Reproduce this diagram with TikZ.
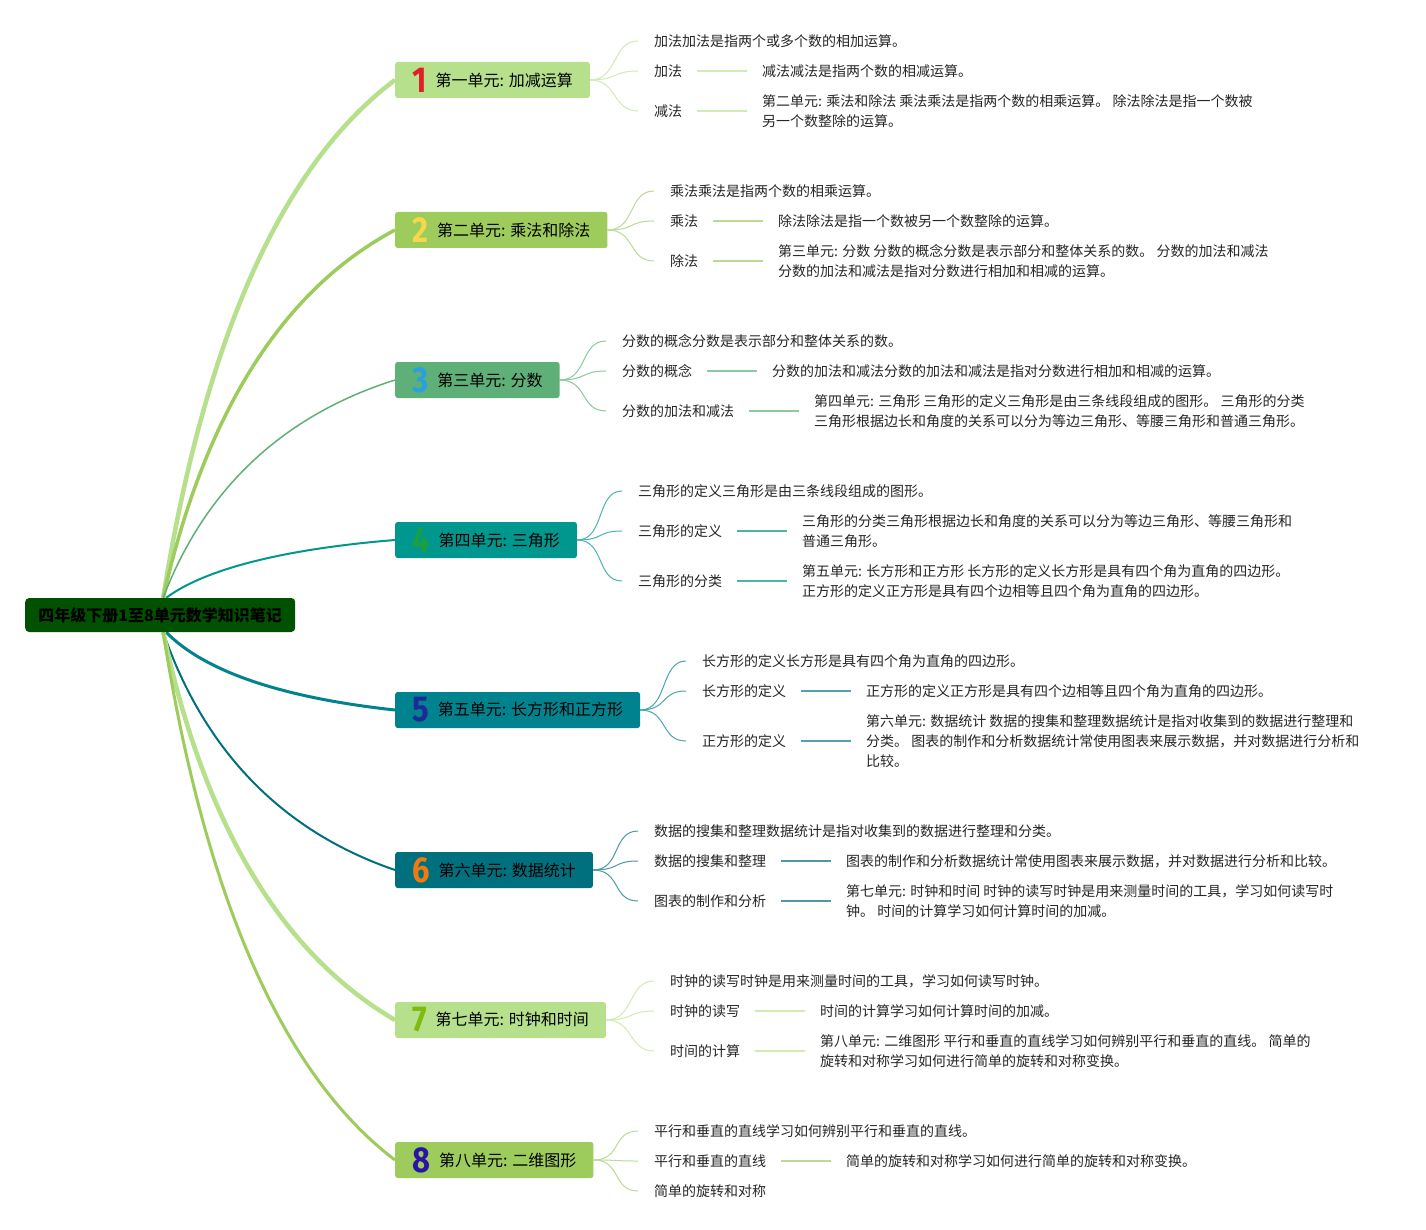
\documentclass[tikz,border=0pt]{standalone}
\usepackage{fontspec}
\usepackage{graphicx}
\setmainfont{Noto Sans CJK SC}
\newfontfamily\numfont{Fira Sans}
\usetikzlibrary{backgrounds}
\definecolor{txtc}{HTML}{262626}
\definecolor{rootc}{HTML}{005200}
\definecolor{bA}{HTML}{B6E08C}
\definecolor{bB}{HTML}{9DCC5C}
\definecolor{bC}{HTML}{5EB078}
\definecolor{bD}{HTML}{00978F}
\definecolor{bE}{HTML}{00838F}
\definecolor{bF}{HTML}{00707F}
\definecolor{lA}{HTML}{D2EAB4}
\definecolor{lB}{HTML}{BCDA92}
\definecolor{lC}{HTML}{8CC8A0}
\definecolor{lD}{HTML}{4FB3AD}
\definecolor{lE}{HTML}{4FA5AE}
\definecolor{lF}{HTML}{4F99A4}
\definecolor{nA}{HTML}{E02028}
\definecolor{nB}{HTML}{F6D84A}
\definecolor{nC}{HTML}{2AA0E0}
\definecolor{nD}{HTML}{1AA040}
\definecolor{nE}{HTML}{1F2A9A}
\definecolor{nF}{HTML}{F07A10}
\definecolor{nG}{HTML}{7DBB10}
\definecolor{nH}{HTML}{2A14A8}
\newcommand\unum[2]{\raisebox{-6pt}{\numfont\bfseries\fontsize{36}{36}\selectfont\color{#1}\scalebox{0.86}[1]{#2}}\hspace{9pt}}
\begin{document}
\begin{tikzpicture}[x=1pt,y=-1pt,
  txt/.style={anchor=west,inner sep=0pt,text=txtc,font=\fontsize{14}{20}\selectfont,align=left},
  topic/.style={anchor=west,rounded corners=2.5pt,minimum height=36pt,inner xsep=17pt,inner ysep=0pt,font=\fontsize{16}{18}\selectfont,text=black},
  rootbox/.style={anchor=west,rounded corners=4pt,minimum height=34pt,minimum width=270pt,inner sep=0pt,fill=rootc,text=black,font=\fontsize{16}{18}\selectfont\bfseries},
  sub/.style={line width=1pt},
  seg/.style={line width=1.5pt}]
\useasboundingbox (0,0) rectangle (1426,1230);
% root and topics
\node[rootbox] (root) at (25,615) {四年级下册1至8单元数学知识笔记};
\node[topic,fill=bA] (t1) at (395,80) {\unum{nA}{1}第一单元: 加减运算};
\node[topic,fill=bB] (t2) at (395,230) {\unum{nB}{2}第二单元: 乘法和除法};
\node[topic,fill=bC] (t3) at (395,380) {\unum{nC}{3}第三单元: 分数};
\node[topic,fill=bD] (t4) at (395,540) {\unum{nD}{4}第四单元: 三角形};
\node[topic,fill=bE] (t5) at (395,710) {\unum{nE}{5}第五单元: 长方形和正方形};
\node[topic,fill=bF] (t6) at (395,870) {\unum{nF}{6}第六单元: 数据统计};
\node[topic,fill=bA] (t7) at (395,1020) {\unum{nG}{7}第七单元: 时钟和时间};
\node[topic,fill=bB] (t8) at (395,1160) {\unum{nH}{8}第八单元: 二维图形};
% branch 1
\node[txt] (c1a) at (654,41) {加法加法是指两个或多个数的相加运算。};
\node[txt] (c1b) at (654,71) {加法};
\node[txt] (c1c) at (654,111) {减法};
\node[txt] (d1b) at (762,71) {减法减法是指两个数的相减运算。};
\node[txt] (d1c) at (762,111) {第二单元: 乘法和除法 乘法乘法是指两个数的相乘运算。 除法除法是指一个数被\\另一个数整除的运算。};
% branch 2
\node[txt] (c2a) at (670,191) {乘法乘法是指两个数的相乘运算。};
\node[txt] (c2b) at (670,221) {乘法};
\node[txt] (c2c) at (670,261) {除法};
\node[txt] (d2b) at (778,221) {除法除法是指一个数被另一个数整除的运算。};
\node[txt] (d2c) at (778,261) {第三单元: 分数 分数的概念分数是表示部分和整体关系的数。 分数的加法和减法\\分数的加法和减法是指对分数进行相加和相减的运算。};
% branch 3
\node[txt] (c3a) at (622,341) {分数的概念分数是表示部分和整体关系的数。};
\node[txt] (c3b) at (622,371) {分数的概念};
\node[txt] (c3c) at (622,411) {分数的加法和减法};
\node[txt] (d3b) at (772,371) {分数的加法和减法分数的加法和减法是指对分数进行相加和相减的运算。};
\node[txt] (d3c) at (814,411) {第四单元: 三角形 三角形的定义三角形是由三条线段组成的图形。 三角形的分类\\三角形根据边长和角度的关系可以分为等边三角形、等腰三角形和普通三角形。};
% branch 4
\node[txt] (c4a) at (638,491) {三角形的定义三角形是由三条线段组成的图形。};
\node[txt] (c4b) at (638,531) {三角形的定义};
\node[txt] (c4c) at (638,581) {三角形的分类};
\node[txt] (d4b) at (802,531) {三角形的分类三角形根据边长和角度的关系可以分为等边三角形、等腰三角形和\\普通三角形。};
\node[txt] (d4c) at (802,581) {第五单元: 长方形和正方形 长方形的定义长方形是具有四个角为直角的四边形。\\正方形的定义正方形是具有四个边相等且四个角为直角的四边形。};
% branch 5
\node[txt] (c5a) at (702,661) {长方形的定义长方形是具有四个角为直角的四边形。};
\node[txt] (c5b) at (702,691) {长方形的定义};
\node[txt] (c5c) at (702,741) {正方形的定义};
\node[txt] (d5b) at (866,691) {正方形的定义正方形是具有四个边相等且四个角为直角的四边形。};
\node[txt] (d5c) at (866,741) {第六单元: 数据统计 数据的搜集和整理数据统计是指对收集到的数据进行整理和\\分类。 图表的制作和分析数据统计常使用图表来展示数据，并对数据进行分析和\\比较。};
% branch 6
\node[txt] (c6a) at (654,831) {数据的搜集和整理数据统计是指对收集到的数据进行整理和分类。};
\node[txt] (c6b) at (654,861) {数据的搜集和整理};
\node[txt] (c6c) at (654,901) {图表的制作和分析};
\node[txt] (d6b) at (846,861) {图表的制作和分析数据统计常使用图表来展示数据，并对数据进行分析和比较。};
\node[txt] (d6c) at (846,901) {第七单元: 时钟和时间 时钟的读写时钟是用来测量时间的工具，学习如何读写时\\钟。 时间的计算学习如何计算时间的加减。};
% branch 7
\node[txt] (c7a) at (670,981) {时钟的读写时钟是用来测量时间的工具，学习如何读写时钟。};
\node[txt] (c7b) at (670,1011) {时钟的读写};
\node[txt] (c7c) at (670,1051) {时间的计算};
\node[txt] (d7b) at (820,1011) {时间的计算学习如何计算时间的加减。};
\node[txt] (d7c) at (820,1051) {第八单元: 二维图形 平行和垂直的直线学习如何辨别平行和垂直的直线。 简单的\\旋转和对称学习如何进行简单的旋转和对称变换。};
% branch 8
\node[txt] (c8a) at (654,1131) {平行和垂直的直线学习如何辨别平行和垂直的直线。};
\node[txt] (c8b) at (654,1161) {平行和垂直的直线};
\node[txt] (c8c) at (654,1191) {简单的旋转和对称};
\node[txt] (d8b) at (846,1161) {简单的旋转和对称学习如何进行简单的旋转和对称变换。};
\begin{scope}[on background layer]
\fill[white] (0,0) rectangle (1426,1230);
% root connectors
\draw[bA,line width=4.5pt] ([xshift=3pt]root.north) .. controls (205,335) and (284,163) .. (t1.west);
\draw[bB,line width=3.5pt] ([xshift=3pt]root.north) .. controls (205,411) and (284,289) .. (t2.west);
\draw[bC,line width=1.5pt] ([xshift=3pt]root.north) .. controls (205,488) and (284,415) .. (t3.west);
\draw[bD,line width=2pt] ([xshift=6pt]root.north) .. controls (205,569) and (284,549) .. (t4.west);
\draw[bE,line width=3pt] ([xshift=6pt]root.south) .. controls (205,672) and (284,698) .. (t5.west);
\draw[bF,line width=2pt] ([xshift=3pt]root.south) .. controls (205,753) and (284,832) .. (t6.west);
\draw[bA,line width=4.5pt] ([xshift=3pt]root.south) .. controls (205,829) and (284,955) .. (t7.west);
\draw[bB,line width=3pt] ([xshift=3pt]root.south) .. controls (205,900) and (284,1076) .. (t8.west);
% sub connectors
\foreach \t/\c/\col in {1/1/lA,2/2/lB,3/3/lC,4/4/lD,5/5/lE,6/6/lF,7/7/lA,8/8/lB}{
  \foreach \k in {a,b,c}{
    \draw[sub,\col] (t\t.east) .. controls +(28,0) and +(-26,0) .. ([xshift=-16pt]c\c\k.west);
  }
}
\foreach \i/\col in {1/lA,2/lB,3/lC,4/lD,5/lE,6/lF,7/lA}{
  \draw[seg,\col] ([xshift=15pt]c\i b.east) -- ([xshift=-15pt]d\i b.west);
  \draw[seg,\col] ([xshift=15pt]c\i c.east) -- ([xshift=-15pt]d\i c.west);
}
\draw[seg,lB] ([xshift=15pt]c8b.east) -- ([xshift=-15pt]d8b.west);
\end{scope}
\end{tikzpicture}
\end{document}
